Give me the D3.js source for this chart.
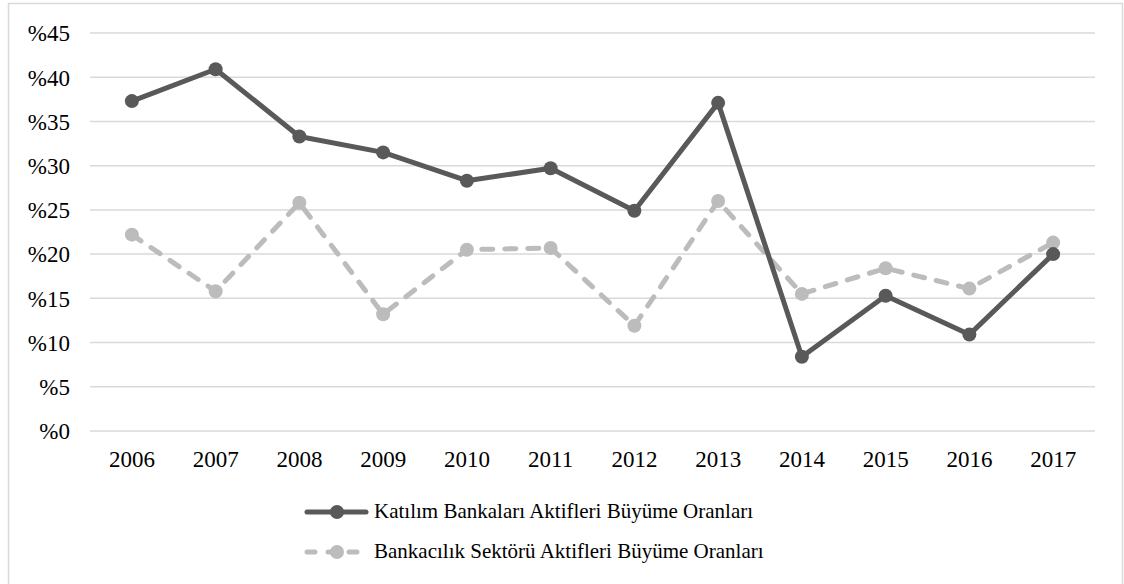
<!DOCTYPE html>
<html>
<head>
<meta charset="utf-8">
<script src="https://cdn.jsdelivr.net/npm/d3@7"></script>
</head>
<body style="margin:0">
<svg id="chart" width="1124" height="584"></svg>
<script>
// Years on the horizontal axis
const years = ["2006", "2007", "2008", "2009", "2010", "2011", "2012", "2013", "2014", "2015", "2016", "2017"];
// Growth of participation bank assets (%)
const katilimValues = [37.3, 40.9, 33.3, 31.5, 28.3, 29.7, 24.9, 37.1, 8.4, 15.3, 10.9, 20.0];
// Growth of banking sector assets (%)
const sektorValues = [22.2, 15.8, 25.8, 13.2, 20.5, 20.7, 11.9, 26.0, 15.5, 18.4, 16.1, 21.3];
// Y-axis tick values
const yTicks = [0, 5, 10, 15, 20, 25, 30, 35, 40, 45];
const seriesNames = ["Katılım Bankaları Aktifleri Büyüme Oranları", "Bankacılık Sektörü Aktifleri Büyüme Oranları"];

const svg = d3.select("#chart");
const serif = '"Liberation Serif", Tinos, "Times New Roman", FreeSerif';

function styleText(sel, size) {
  sel.attr("font-family", serif)
    .style("font-family", serif)
    .attr("font-size", size)
    .style("font-size", size + "px")
    .attr("fill", "#000");
}

// outer frame
svg.append("rect")
  .attr("x", 8.5).attr("y", 3.5)
  .attr("width", 1114).attr("height", 620)
  .attr("fill", "#fff")
  .attr("stroke", "#d9d9d9").attr("stroke-width", 1.5);

const plotLeft = 90, plotRight = 1095, plotTop = 33, plotBottom = 431;

const x = d3.scaleBand().domain(years).range([plotLeft, plotRight]);
const y = d3.scaleLinear().domain([0, 45]).range([plotBottom, plotTop]);

// gridlines
svg.append("g")
  .selectAll("line")
  .data(yTicks)
  .join("line")
  .attr("x1", plotLeft).attr("x2", plotRight)
  .attr("y1", d => y(d)).attr("y2", d => y(d))
  .attr("stroke", "#d9d9d9").attr("stroke-width", 1.5);

// y axis labels
const yAxis = svg.append("g")
  .attr("transform", `translate(${plotLeft - 20},0)`)
  .call(d3.axisLeft(y).tickValues(yTicks).tickSize(0).tickPadding(0).tickFormat(d => "%" + d));
yAxis.attr("font-family", serif).attr("font-size", 23);
yAxis.select(".domain").remove();
yAxis.selectAll("text").call(styleText, 23).attr("dy", "0.34em");

// x axis labels
const xAxis = svg.append("g")
  .attr("transform", `translate(0,${plotBottom})`)
  .call(d3.axisBottom(x).tickSize(0).tickPadding(0));
xAxis.attr("font-family", serif).attr("font-size", 23);
xAxis.select(".domain").remove();
xAxis.selectAll("text").call(styleText, 23).attr("y", 36).attr("dy", 0);

const cx = d => x(d) + x.bandwidth() / 2;

const series = [
  { name: seriesNames[0], values: katilimValues, color: "#595959", dash: null },
  { name: seriesNames[1], values: sektorValues, color: "#bcbcbc", dash: "11,12" }
];

const line = d3.line().x((d, i) => cx(years[i])).y(d => y(d));

// draw lighter series first so the dark line sits on top
[series[1], series[0]].forEach(s => {
  const g = svg.append("g");
  g.append("path")
    .datum(s.values)
    .attr("d", line)
    .attr("fill", "none")
    .attr("stroke", s.color)
    .attr("stroke-width", 5)
    .attr("stroke-linejoin", "round")
    .attr("stroke-linecap", "round")
    .attr("stroke-dasharray", s.dash);
  g.selectAll("circle")
    .data(s.values)
    .join("circle")
    .attr("cx", (d, i) => cx(years[i]))
    .attr("cy", d => y(d))
    .attr("r", 7)
    .attr("fill", s.color);
});

// legend
const legend = svg.append("g");
series.forEach((s, i) => {
  const ly = 512 + i * 40;
  legend.append("line")
    .attr("x1", 307).attr("x2", 366)
    .attr("y1", ly).attr("y2", ly)
    .attr("stroke", s.color).attr("stroke-width", 5)
    .attr("stroke-linecap", "round")
    .attr("stroke-dasharray", s.dash ? "8,13" : null);
  legend.append("circle")
    .attr("cx", 337).attr("cy", ly).attr("r", 7).attr("fill", s.color);
  legend.append("text")
    .attr("x", 374).attr("y", ly + 6)
    .call(styleText, 21)
    .text(s.name);
});
</script>
</body>
</html>
